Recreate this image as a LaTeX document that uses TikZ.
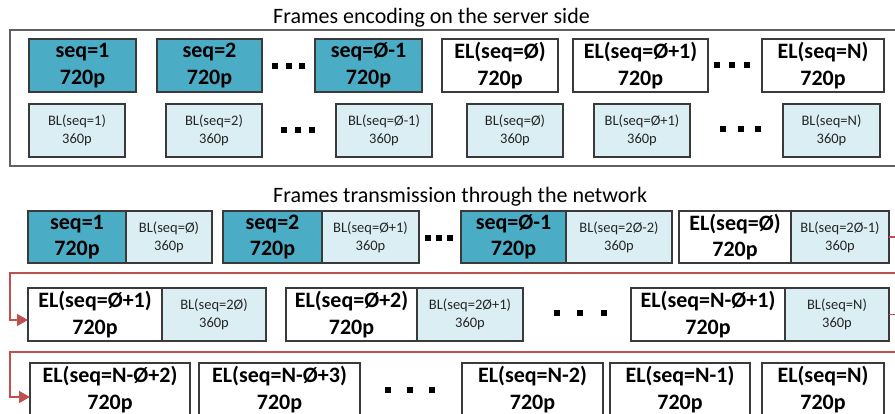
\documentclass[tikz,border=0pt]{standalone}
\usepackage{fontspec}
\setmainfont{Carlito}
\usetikzlibrary{arrows.meta}

\definecolor{teal}{HTML}{4BACC6}
\definecolor{pale}{HTML}{DAEEF3}
\definecolor{flowred}{HTML}{C0504D}
\definecolor{edge}{HTML}{3A3A3A}

\newcommand\bigtxt{\bfseries\fontsize{22}{26.5}\selectfont}
\newcommand\smalltxt{\fontsize{14.5}{18}\selectfont}

% frame box: style, name, x1, x2, y1, y2, text
\newcommand\frm[7]{\node[#1,minimum width={#4-#3},minimum height={#6-#5}] (#2) at ({(#3+#4)/2},{(#5+#6)/2}) {#7};}
% three square dots centred at x1,x2,x3 on row y
\newcommand\sqdots[4]{\foreach \xx in {#1,#2,#3} {\fill (\xx-3,#4-3) rectangle (\xx+3,#4+3);}}

\tikzset{
  fbox/.style={draw=edge,line width=1.1pt,inner sep=0pt,outer sep=0pt,align=center},
  hq/.style={fbox,fill=teal,font=\bigtxt},
  el/.style={fbox,fill=white,font=\bigtxt},
  bl/.style={fbox,fill=pale,font=\smalltxt,text=black!85},
  title/.style={font=\fontsize{22}{25}\selectfont,anchor=base west,inner sep=0pt},
  flow/.style={draw=flowred,line width=1.5pt,-{Triangle[length=11pt,width=12pt]}},
}

\begin{document}
\begin{tikzpicture}[x=1pt,y=-1pt]
\useasboundingbox (0,0) rectangle (895,414);
\clip (0,0) rectangle (895,414);

% ---- encoding on the server side ----
\node[title] (t1) at (273,24) {Frames encoding on the server side};
\draw[gray!75!black,line width=1.4pt] (10,30) rectangle (905,166);

\frm{hq}{s1}{29}{136}{39}{92}{seq=1\\720p}
\frm{hq}{s2}{157}{262}{39}{92}{seq=2\\720p}
\frm{hq}{s3}{315}{422}{39}{92}{seq=Ø-1\\720p}
\frm{el}{e1}{442}{558}{39}{92}{EL(seq=Ø)\\720p}
\frm{el}{e2}{573}{708}{39}{92}{EL(seq=Ø+1)\\720p}
\frm{el}{e3}{762}{884}{39}{92}{EL(seq=N)\\720p}
\sqdots{275}{288.5}{302}{66}
\sqdots{717}{732}{747}{65}

\frm{bl}{b1}{29}{125}{104}{157}{BL(seq=1)\\360p}
\frm{bl}{b2}{166}{262}{104}{157}{BL(seq=2)\\360p}
\frm{bl}{b3}{336}{432}{104}{157}{BL(seq=Ø-1)\\360p}
\frm{bl}{b4}{467}{563}{104}{157}{BL(seq=Ø)\\360p}
\frm{bl}{b5}{594}{690}{104}{157}{BL(seq=Ø+1)\\360p}
\frm{bl}{b6}{783}{880}{104}{157}{BL(seq=N)\\360p}
\sqdots{284}{298}{312}{130}
\sqdots{723}{741}{758}{129}

% ---- transmission through the network ----
\node[title] (t2) at (273,203) {Frames transmission through the network};

\frm{hq}{A1}{28}{126}{211}{263}{seq=1\\720p}
\frm{bl}{A2}{126}{212}{211}{263}{BL(seq=Ø)\\360p}
\frm{hq}{B1}{223}{322}{211}{263}{seq=2\\720p}
\frm{bl}{B2}{322}{419}{211}{263}{BL(seq=Ø+1)\\360p}
\frm{hq}{C1}{461}{566}{211}{263}{seq=Ø-1\\720p}
\frm{bl}{C2}{566}{672}{211}{263}{BL(seq=2Ø-2)\\360p}
\frm{el}{D1}{679}{791}{211}{263}{EL(seq=Ø)\\720p}
\frm{bl}{D2}{791}{889}{211}{263}{BL(seq=2Ø-1)\\360p}
\sqdots{428}{439}{450}{238}

\frm{el}{E1}{28}{162}{288}{341}{EL(seq=Ø+1)\\720p}
\frm{bl}{E2}{162}{266}{288}{341}{BL(seq=2Ø)\\360p}
\frm{el}{F1}{286}{417}{288}{341}{EL(seq=Ø+2)\\720p}
\frm{bl}{F2}{417}{523}{288}{341}{BL(seq=2Ø+1)\\360p}
\frm{el}{G1}{631}{785}{288}{341}{EL(seq=N-Ø+1)\\720p}
\frm{bl}{G2}{785}{889}{288}{341}{BL(seq=N)\\360p}
\sqdots{557}{580}{604}{313}

\frm{el}{H}{30}{190}{363}{416}{EL(seq=N-Ø+2)\\720p}
\frm{el}{I}{199}{360}{363}{416}{EL(seq=N-Ø+3)\\720p}
\frm{el}{J}{462}{603}{363}{416}{EL(seq=N-2)\\720p}
\frm{el}{K}{610}{750}{363}{416}{EL(seq=N-1)\\720p}
\frm{el}{L}{762}{884}{363}{416}{EL(seq=N)\\720p}
\sqdots{388}{410}{432}{390}

% ---- row wrap-around connectors ----
\coordinate (rx) at (902,0);
\coordinate (w1) at (10,273);
\coordinate (w2) at (10,352);
\draw[flow] (D2.east) -- (rx|-D2.east) |- (w1) |- ([yshift=-5.5pt]E1.west);
\draw[flow] (G2.east) -- (rx|-G2.east) |- (w2) |- ([yshift=-7.5pt]H.west);
\end{tikzpicture}
\end{document}
